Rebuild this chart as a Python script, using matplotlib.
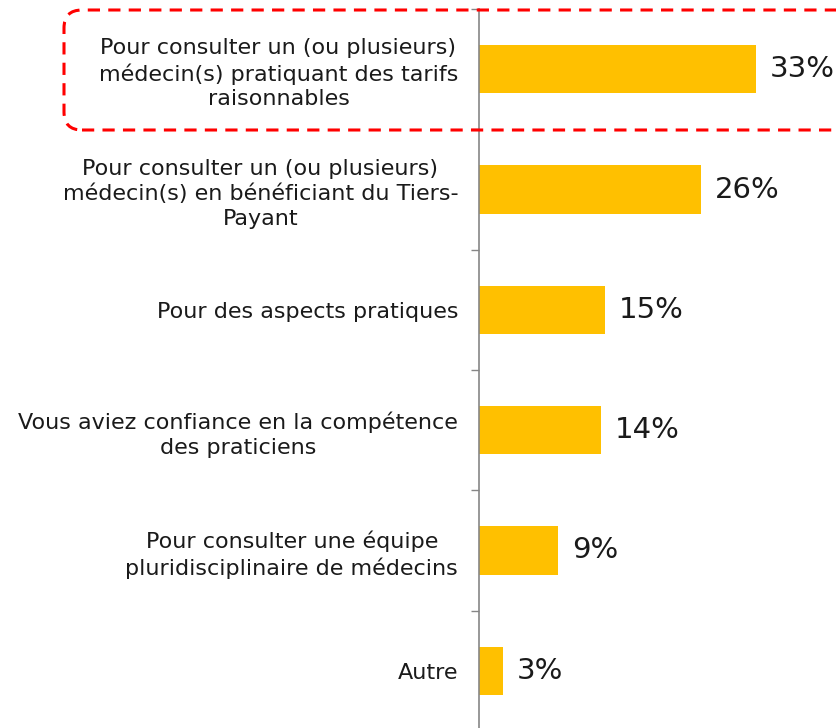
import matplotlib
matplotlib.use("Agg")
import matplotlib.pyplot as plt
from matplotlib.patches import FancyBboxPatch
from matplotlib.transforms import IdentityTransform

# ---------------------------------------------
# DATA
# ---------------------------------------------
categories = [
    "Pour consulter un (ou plusieurs)\nmédecin(s) pratiquant des tarifs\nraisonnables",
    "Pour consulter un (ou plusieurs)\nmédecin(s) en bénéficiant du Tiers-\nPayant",
    "Pour des aspects pratiques",
    "Vous aviez confiance en la compétence\ndes praticiens",
    "Pour consulter une équipe\npluridisciplinaire de médecins",
    "Autre",
]
values = [32.8, 26.3, 14.9, 14.4, 9.4, 2.8]
labels = ["33%", "26%", "15%", "14%", "9%", "3%"]

BAR_COLOR = "#FFC000"
AXIS_COLOR = "#868686"
TEXT_COLOR = "#1a1a1a"

W, H, DPI = 836, 728, 100

# ---------------------------------------------
# FIGURE
# ---------------------------------------------
fig = plt.figure(figsize=(W / DPI, H / DPI), dpi=DPI)
ax = fig.add_axes([479 / W, -3 / H, 1 - 479 / W, 722 / H])

y = list(range(len(categories)))
ax.barh(y, values, height=0.4, color=BAR_COLOR)

ax.set_xlim(0, (W - 479) / 8.45)
ax.set_ylim(len(categories) - 0.5, -0.5)

for yi, v, lab in zip(y, values, labels):
    ax.annotate(lab, (v, yi), xytext=(10, 0), textcoords="offset points",
                va="center", ha="left", fontsize=21, color=TEXT_COLOR)

# category labels
ax.set_yticks(y)
ax.set_yticklabels(categories, fontsize=16, color=TEXT_COLOR)
for t in ax.get_yticklabels():
    t.set_multialignment("center")
    t.set_linespacing(1.3)
ax.tick_params(axis="y", which="major", length=0, pad=15)
ax.set_yticks([i - 0.5 for i in range(len(categories) + 1)], minor=True)
ax.tick_params(axis="y", which="minor", length=6, width=1, color=AXIS_COLOR)

ax.set_xticks([])
for side in ["top", "right", "bottom"]:
    ax.spines[side].set_visible(False)
ax.spines["left"].set_color(AXIS_COLOR)
ax.spines["left"].set_linewidth(1.2)

# dashed highlight box around first item
box = FancyBboxPatch((64, H - 130), 820, 120,
                     boxstyle="round,pad=0,rounding_size=18",
                     transform=IdentityTransform(), fill=False,
                     edgecolor="#FF0000", linewidth=2.2,
                     linestyle=(0, (4, 2.7)), clip_on=False)
fig.patches.append(box)

fig.savefig("out.png", dpi=DPI)
